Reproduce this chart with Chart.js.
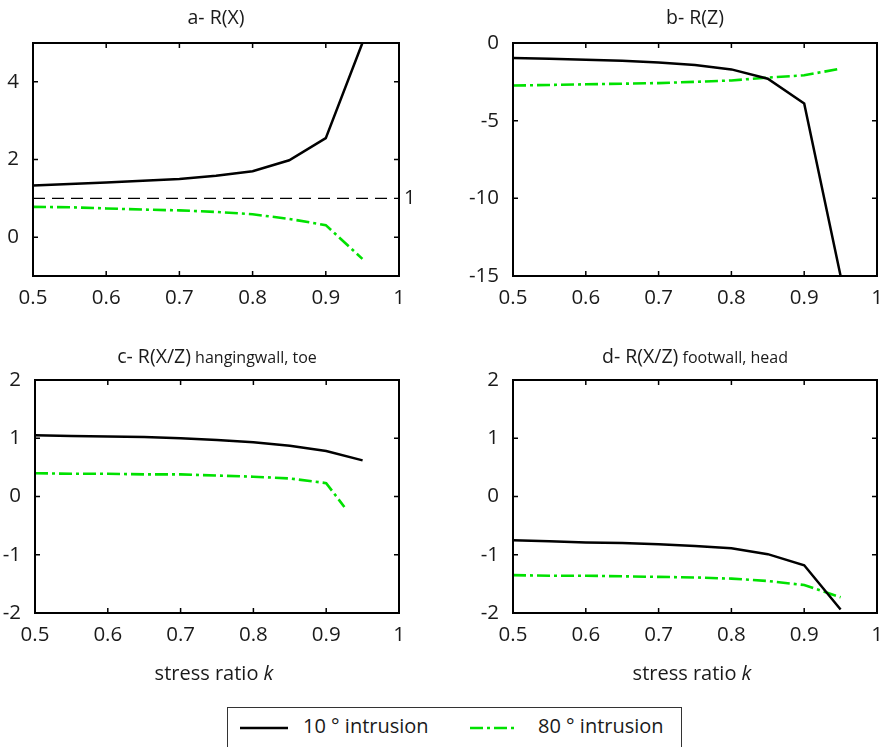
<!DOCTYPE html>
<html>
<head>
<meta charset="utf-8">
<script src="https://cdn.jsdelivr.net/npm/chart.js@4.4.1/dist/chart.umd.min.js"></script>
<style>
  body { margin: 0; background: #fff; width: 887px; height: 747px; overflow: hidden; position: relative; font-family: 'Open Sans', sans-serif; }
  canvas { position: absolute; }
  #legend { position: absolute; left: 227px; top: 707px; width: 455px; height: 60px; border: 1.5px solid #333; box-sizing: border-box; }
  #legend span { position: absolute; top: 4px; font-size: 20px; color: #1a1a1a; white-space: nowrap; }
  #legend svg { position: absolute; top: 14px; }
</style>
</head>
<body>
<canvas id="chartA" width="440" height="310" style="left:0;top:0"></canvas>
<canvas id="chartB" width="447" height="310" style="left:440px;top:0"></canvas>
<canvas id="chartC" width="440" height="340" style="left:0;top:340px"></canvas>
<canvas id="chartD" width="447" height="340" style="left:440px;top:340px"></canvas>
<div id="legend">
  <svg width="50" height="12" style="left:12px"><line x1="0" y1="6" x2="48" y2="6" stroke="#000" stroke-width="2.5"/></svg>
  <span id="leg1" style="left:75px"></span>
  <svg width="50" height="12" style="left:242px"><line x1="0" y1="6" x2="48" y2="6" stroke="rgb(0,225,0)" stroke-width="2.5" stroke-dasharray="13,4,3,4"/></svg>
  <span id="leg2" style="left:310px"></span>
</div>
<script>
// stress ratio k
const kValues = [0.5, 0.55, 0.6, 0.65, 0.7, 0.75, 0.8, 0.85, 0.9, 0.95];
const kValuesHang80 = [0.5, 0.55, 0.6, 0.65, 0.7, 0.75, 0.8, 0.85, 0.9, 0.925];
const xTicks = [0.5, 0.6, 0.7, 0.8, 0.9, 1];

const seriesLabels = ['10 ° intrusion', '80 ° intrusion'];

// a- R(X)
const rx10 = [1.33, 1.37, 1.41, 1.45, 1.5, 1.58, 1.7, 1.98, 2.55, 5.0];
const rx80 = [0.78, 0.77, 0.74, 0.71, 0.69, 0.65, 0.59, 0.47, 0.31, -0.56];
const refX = [0.5, 1];
const refY = [1, 1];
const yTicksA = [0, 2, 4];

// b- R(Z)
const rz10 = [-0.97, -1.02, -1.08, -1.15, -1.25, -1.42, -1.7, -2.3, -3.9, -15];
const rz80 = [-2.74, -2.7, -2.66, -2.62, -2.58, -2.5, -2.41, -2.23, -2.08, -1.65];
const yTicksB = [-15, -10, -5, 0];

// c- R(X/Z) hangingwall, toe
const hang10 = [1.05, 1.04, 1.03, 1.02, 1.0, 0.97, 0.93, 0.87, 0.78, 0.62];
const hang80 = [0.4, 0.39, 0.39, 0.38, 0.38, 0.36, 0.34, 0.31, 0.23, -0.18];

// d- R(X/Z) footwall, head
const foot10 = [-0.75, -0.77, -0.79, -0.8, -0.82, -0.85, -0.89, -0.99, -1.18, -1.94];
const foot80 = [-1.35, -1.36, -1.36, -1.37, -1.38, -1.39, -1.41, -1.45, -1.52, -1.73];
const yTicksCD = [-2, -1, 0, 1, 2];

document.getElementById('leg1').textContent = seriesLabels[0];
document.getElementById('leg2').textContent = seriesLabels[1];

Chart.defaults.font.family = "'Open Sans', sans-serif";
Chart.defaults.color = '#1a1a1a';

const toPoints = (xs, ys) => xs.map((x, i) => ({ x: x, y: ys[i] }));

// draws the box with inward ticks, the panel title, and optional labels
const framePlugin = {
  id: 'frame',
  afterDraw(chart, args, opts) {
    const ctx = chart.ctx;
    const a = chart.chartArea;
    const x = chart.scales.x, y = chart.scales.y;
    ctx.save();
    ctx.strokeStyle = '#000';
    ctx.lineWidth = 1.5;
    ctx.beginPath();
    x.ticks.forEach(t => {
      const px = x.getPixelForValue(t.value);
      ctx.moveTo(px, a.bottom); ctx.lineTo(px, a.bottom - 5);
      ctx.moveTo(px, a.top); ctx.lineTo(px, a.top + 5);
    });
    y.ticks.forEach(t => {
      const py = y.getPixelForValue(t.value);
      ctx.moveTo(a.left, py); ctx.lineTo(a.left + 5, py);
      ctx.moveTo(a.right, py); ctx.lineTo(a.right - 5, py);
    });
    ctx.stroke();
    ctx.lineWidth = 2;
    ctx.strokeRect(a.left, a.top, a.right - a.left, a.bottom - a.top);

    // title, main part plus smaller suffix
    ctx.fillStyle = '#1a1a1a';
    ctx.textBaseline = 'middle';
    ctx.textAlign = 'left';
    const mainFont = "19.5px 'Open Sans', sans-serif";
    const subFont = "16px 'Open Sans', sans-serif";
    ctx.font = mainFont;
    const wMain = ctx.measureText(opts.title).width;
    let wSub = 0;
    if (opts.sub) { ctx.font = subFont; wSub = ctx.measureText(' ' + opts.sub).width; }
    const cx = (a.left + a.right) / 2;
    let tx = cx - (wMain + wSub) / 2;
    ctx.font = mainFont;
    ctx.fillText(opts.title, tx, opts.titleY);
    if (opts.sub) { ctx.font = subFont; ctx.fillText(' ' + opts.sub, tx + wMain, opts.titleY + 1); }

    // label of the reference line
    if (opts.refLabel) {
      ctx.font = "20px 'Open Sans', sans-serif";
      ctx.fillText(opts.refLabel, a.right + 5, y.getPixelForValue(refY[0]));
    }

    // x axis label with italic k
    if (opts.xlabel) {
      const f1 = "20px 'Open Sans', sans-serif", f2 = "italic 20px 'Open Sans', sans-serif";
      ctx.font = f1; const w1 = ctx.measureText('stress ratio ').width;
      ctx.font = f2; const w2 = ctx.measureText('k').width;
      let lx = cx - (w1 + w2) / 2 - 3;
      ctx.font = f1; ctx.fillText('stress ratio ', lx, a.bottom + 61);
      ctx.font = f2; ctx.fillText('k', lx + w1, a.bottom + 61);
    }
    ctx.restore();
  }
};

function blackSet(xs, ys) {
  return { label: seriesLabels[0], data: toPoints(xs, ys), borderColor: '#000', borderWidth: 2.5, pointRadius: 0, tension: 0 };
}
function greenSet(xs, ys) {
  return { label: seriesLabels[1], data: toPoints(xs, ys), borderColor: 'rgb(0,225,0)', borderWidth: 2.6, borderDash: [13, 4, 3, 4], pointRadius: 0, tension: 0 };
}

function makePanel(id, datasets, yMin, yMax, yTicks, layout, frameOpts) {
  return new Chart(document.getElementById(id), {
    type: 'line',
    data: { datasets: datasets },
    options: {
      responsive: false,
      animation: false,
      layout: { padding: layout.padding },
      plugins: { legend: { display: false }, tooltip: { enabled: false }, frame: frameOpts },
      scales: {
        x: {
          type: 'linear', min: 0.5, max: 1,
          grid: { display: false }, border: { display: false },
          ticks: { font: { size: 20.5 }, padding: 2, maxRotation: 0, callback: v => String(v) },
          afterBuildTicks: s => { s.ticks = xTicks.map(v => ({ value: v })); },
          afterFit: s => { s.height = 30; }
        },
        y: {
          min: yMin, max: yMax,
          grid: { display: false }, border: { display: false },
          ticks: { font: { size: 20.5 }, padding: 6, callback: v => String(v) },
          afterBuildTicks: s => { s.ticks = yTicks.map(v => ({ value: v })); },
          afterFit: s => { s.width = layout.yWidth; }
        }
      }
    },
    plugins: [framePlugin]
  });
}

makePanel('chartA', [
  blackSet(kValues, rx10),
  greenSet(kValues, rx80),
  { label: 'ref', data: toPoints(refX, refY), borderColor: '#000', borderWidth: 1.2, borderDash: [12, 7], pointRadius: 0 }
], -1, 5, yTicksA, { yWidth: 33, padding: { top: 43, right: 41, bottom: 4, left: 0 } },
  { title: 'a- R(X)', titleY: 18, refLabel: '1' });

makePanel('chartB', [
  blackSet(kValues, rz10),
  greenSet(kValues, rz80)
], -15, 0, yTicksB, { yWidth: 73, padding: { top: 43, right: 10, bottom: 4, left: 0 } },
  { title: 'b- R(Z)', titleY: 18 });

makePanel('chartC', [
  blackSet(kValues, hang10),
  greenSet(kValuesHang80, hang80)
], -2, 2, yTicksCD, { yWidth: 35, padding: { top: 40, right: 41, bottom: 37, left: 0 } },
  { title: 'c- R(X/Z)', sub: 'hangingwall, toe', titleY: 17, xlabel: true });

makePanel('chartD', [
  blackSet(kValues, foot10),
  greenSet(kValues, foot80)
], -2, 2, yTicksCD, { yWidth: 73, padding: { top: 40, right: 10, bottom: 37, left: 0 } },
  { title: 'd- R(X/Z)', sub: 'footwall, head', titleY: 17, xlabel: true });
</script>
</body>
</html>
